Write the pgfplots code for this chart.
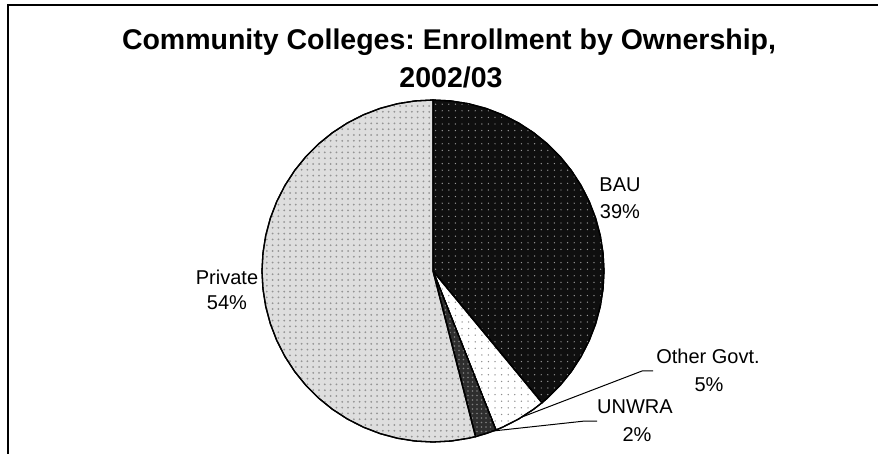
\documentclass[border=0pt]{standalone}
\usepackage{pgfplots}
\pgfplotsset{compat=1.18}
\usepackage{fontspec}
\setmainfont{Liberation Sans}
\usetikzlibrary{patterns.meta}
\frenchspacing
\begin{document}
\begin{tikzpicture}
\begin{axis}[
  at={(0,0)}, anchor=south west,
  scale only axis, width=878bp, height=454bp,
  xmin=-433, xmax=445, ymin=-183, ymax=271,
  hide axis, clip=false, no markers,
]
% Shares: BAU 39%, Other Govt. 5%, UNWRA 2%, Private 54% (clockwise from 12 o'clock)
% BAU 39%
\addplot[data cs=polar, draw=black, line width=1.3bp, fill=black!94,
  postaction={pattern={Dots[distance=6.6bp, radius=0.7bp]}, pattern color=black!40}]
  coordinates {(0,0) (90,171) (84,171) (78,171) (72,171) (66,171) (60,171) (54,171) (48,171)
  (42,171) (36,171) (30,171) (24,171) (18,171) (12,171) (6,171) (0,171) (-6,171) (-12,171)
  (-18,171) (-24,171) (-30,171) (-36,171) (-42,171) (-48,171) (-50.4,171) (0,0)};
% Other Govt. 5%
\addplot[data cs=polar, draw=black, line width=1.3bp, fill=white,
  postaction={pattern={Dots[distance=6.6bp, radius=0.75bp]}, pattern color=black!45}]
  coordinates {(0,0) (-50.4,171) (-54,171) (-60,171) (-66,171) (-68.4,171) (0,0)};
% UNWRA 2%
\addplot[data cs=polar, draw=black, line width=1.3bp, fill=black!82,
  postaction={pattern={Dots[distance=4.5bp, radius=0.9bp]}, pattern color=black!50}]
  coordinates {(0,0) (-68.4,171) (-72,171) (-75.6,171) (0,0)};
% Private 54%
\addplot[data cs=polar, draw=black, line width=1.3bp, fill=black!13,
  postaction={pattern={Dots[distance=5.8bp, radius=1bp]}, pattern color=black!42}]
  coordinates {(0,0) (-75.6,171) (-78,171) (-84,171) (-90,171) (-96,171) (-102,171) (-108,171)
  (-114,171) (-120,171) (-126,171) (-132,171) (-138,171) (-144,171) (-150,171) (-156,171)
  (-162,171) (-168,171) (-174,171) (-180,171) (-186,171) (-192,171) (-198,171) (-204,171)
  (-210,171) (-216,171) (-222,171) (-228,171) (-234,171) (-240,171) (-246,171) (-252,171)
  (-258,171) (-264,171) (-270,171) (0,0)};
% leader lines
\draw[black, line width=1bp] (axis cs:89,-146) -- (axis cs:209,-100) -- (axis cs:220,-100);
\draw[black, line width=1bp] (axis cs:60,-160) -- (axis cs:152,-150) -- (axis cs:164,-150);
% frame
\draw[black, line width=2bp] (axis cs:-425,-260) -- (axis cs:-425,266) -- (axis cs:520,266);
% title
\node[anchor=base, font=\fontsize{28.5bp}{34bp}\selectfont\bfseries] at (axis cs:16,221) {Community Colleges: Enrollment by Ownership,};
\node[anchor=base, font=\fontsize{28.5bp}{34bp}\selectfont\bfseries] at (axis cs:18,183) {2002/03};
% labels
\node[anchor=base, font=\fontsize{20bp}{24bp}\selectfont] at (axis cs:187,79) {BAU};
\node[anchor=base, font=\fontsize{20bp}{24bp}\selectfont] at (axis cs:187,52) {39\%};
\node[anchor=base, font=\fontsize{20bp}{24bp}\selectfont] at (axis cs:-206,-14) {Private};
\node[anchor=base, font=\fontsize{20bp}{24bp}\selectfont] at (axis cs:-206,-39) {54\%};
\node[anchor=base, font=\fontsize{20bp}{24bp}\selectfont] at (axis cs:275,-92) {Other Govt.};
\node[anchor=base, font=\fontsize{20bp}{24bp}\selectfont] at (axis cs:276,-120) {5\%};
\node[anchor=base, font=\fontsize{20bp}{24bp}\selectfont] at (axis cs:202,-142) {UNWRA};
\node[anchor=base, font=\fontsize{20bp}{24bp}\selectfont] at (axis cs:204,-170) {2\%};
\end{axis}
\pgfresetboundingbox
\path (0,0) rectangle (878bp,454bp);
\end{tikzpicture}
\end{document}
